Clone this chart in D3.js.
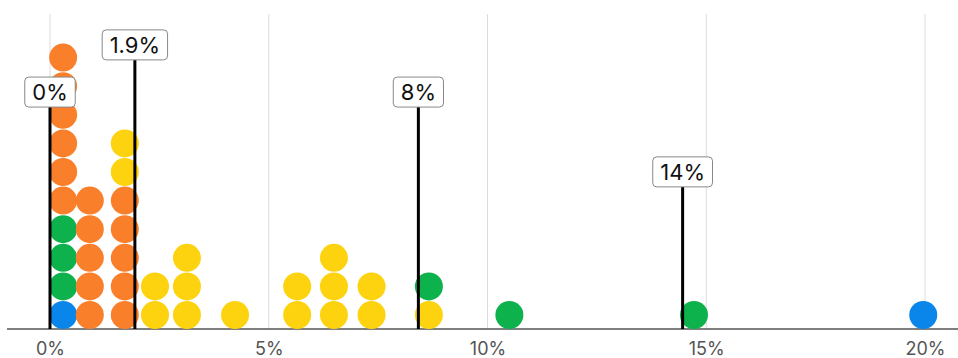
<!DOCTYPE html>
<html><head><meta charset="utf-8">
<script src="https://cdn.jsdelivr.net/npm/d3@7"></script>
<style>body{margin:0;background:#fff}svg{display:block}text{font-family:Inter,"Noto Sans",sans-serif}</style>
</head><body><svg id="c" width="958" height="358"></svg>
<script>
// Column positions (percent) and the stacked groups from bottom to top
const colValues = [0.30, 0.91, 1.71, 2.40, 3.13, 4.23, 5.65, 6.49, 7.35, 8.66, 10.5, 14.72, 19.96];
const colStacks = [
  ["blue","green","green","green","orange","orange","orange","orange","orange","orange"],
  ["orange","orange","orange","orange","orange"],
  ["orange","orange","orange","orange","orange","yellow","yellow"],
  ["yellow","yellow"],
  ["yellow","yellow","yellow"],
  ["yellow"],
  ["yellow","yellow"],
  ["yellow","yellow","yellow"],
  ["yellow","yellow"],
  ["yellow","green"],
  ["green"],
  ["green"],
  ["blue"]
];
const groupColors = {blue:"#0a85e9", green:"#0db24c", orange:"#fa7f2b", yellow:"#fdd30f"};
const refValues = [0, 1.94, 8.42, 14.46];
const refLabels = ["0%", "1.9%", "8%", "14%"];
const refLevels = [7.27, 8.92, 7.27, 4.48]; // label height in dot rows
const tickValues = [0, 5, 10, 15, 20];

const svg = d3.select("#c");
const x = d3.scaleLinear().domain([0, 20]).range([50, 925]);
const baseY = 329, r = 14, step = 28.6;
const y = d3.scaleLinear().domain([0, 1]).range([baseY - r, baseY - r - step]);

// grid
svg.append("g").selectAll("line").data(tickValues).join("line")
  .attr("x1", d => x(d)).attr("x2", d => x(d)).attr("y1", 14).attr("y2", baseY)
  .attr("stroke", "#dcdcdc").attr("stroke-width", 1);

// axis
const axis = svg.append("g").attr("transform", `translate(0,${baseY})`)
  .call(d3.axisBottom(x).tickValues(tickValues).tickFormat(d => d + "%").tickSize(0).tickPadding(13));
axis.select(".domain").remove();
axis.selectAll("text").attr("font-size", 18).attr("fill", "#555").attr("font-family", "Inter,'Noto Sans',sans-serif");
svg.append("line").attr("x1", 7).attr("x2", 958).attr("y1", baseY).attr("y2", baseY)
  .attr("stroke", "#555").attr("stroke-width", 1.5);

// dots
const dots = [];
colValues.forEach((v, i) => colStacks[i].forEach((g, k) => dots.push({v, k, g})));
svg.append("g").selectAll("circle").data(dots).join("circle")
  .attr("cx", d => x(d.v)).attr("cy", d => y(d.k)).attr("r", r)
  .attr("fill", d => groupColors[d.g]);

// reference lines with labels
const refs = refValues.map((v, i) => ({v, label: refLabels[i], lvl: refLevels[i]}));
const rg = svg.append("g").selectAll("g").data(refs).join("g");
rg.append("line").attr("x1", d => x(d.v)).attr("x2", d => x(d.v))
  .attr("y1", d => y(d.lvl)).attr("y2", baseY).attr("stroke", "#000").attr("stroke-width", 3);
rg.each(function(d) {
  const g = d3.select(this);
  const t = g.append("text").attr("x", x(d.v)).attr("y", y(d.lvl) - 7)
    .attr("text-anchor", "middle").attr("font-size", 22).attr("fill", "#111").text(d.label);
  const w = t.node().getComputedTextLength() + 15;
  g.insert("rect", "text").attr("x", x(d.v) - w / 2).attr("y", y(d.lvl) - 30)
    .attr("width", w).attr("height", 30).attr("rx", 4)
    .attr("fill", "#fff").attr("stroke", "#888").attr("stroke-width", 1);
});
</script></body></html>
